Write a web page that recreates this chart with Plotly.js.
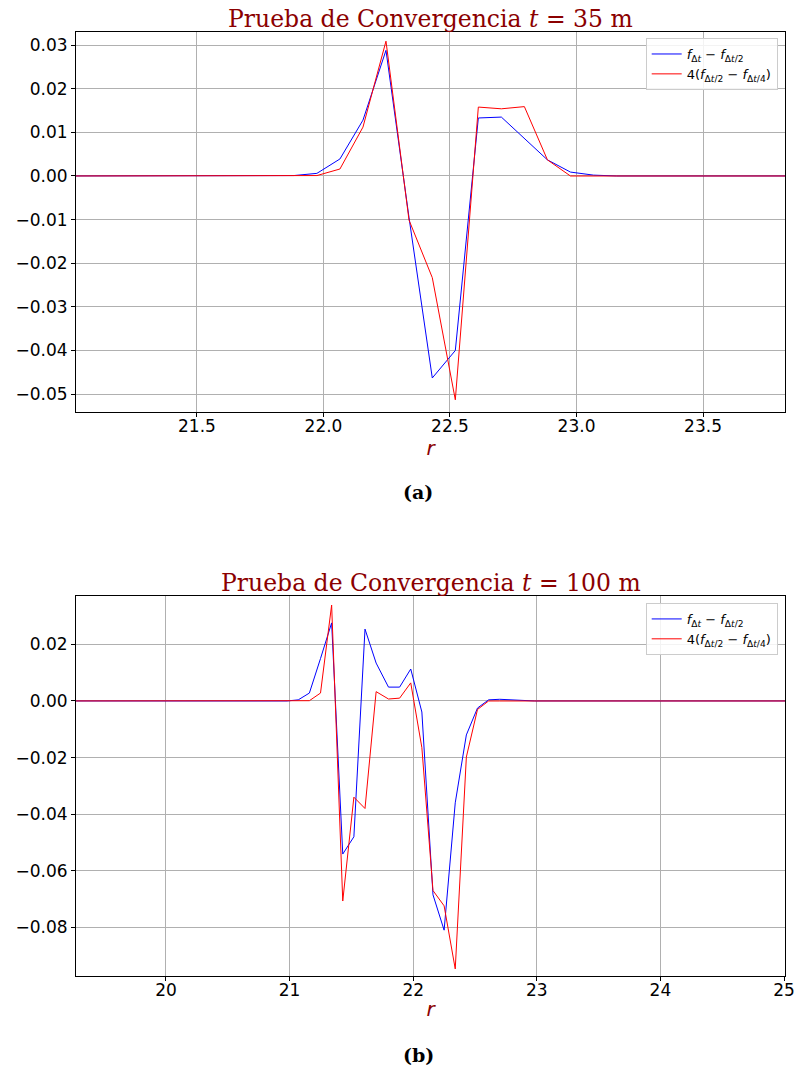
<!DOCTYPE html>
<html>
<head>
<meta charset="utf-8">
<script src="https://cdn.plot.ly/plotly-3.0.1.min.js"></script>
<style>html,body{margin:0;padding:0;background:#fff;}#chart{width:796px;height:1071px;}</style>
</head>
<body>
<div id="chart"></div>
<script>
// ---- Data ----
const rTop = [20.97, 21.79, 21.883, 21.974, 22.065, 22.156, 22.247, 22.338, 22.430, 22.521, 22.612, 22.703, 22.794, 22.885, 22.976, 23.067, 23.158, 23.249, 23.90];
const blueTop = [0, 0, 0.0001, 0.0006, 0.0039, 0.0128, 0.0288, -0.0095, -0.0463, -0.0400, 0.0133, 0.0135, 0.0087, 0.0037, 0.0009, 0.0002, 0, 0, 0];
const redTop = [0, 0, 0, 0.0001, 0.0016, 0.0112, 0.0309, -0.0101, -0.0233, -0.0513, 0.0158, 0.0154, 0.0159, 0.0037, 0.0000, 0, 0, 0, 0];

const rBot = [19.0, 20.98, 21.07, 21.16, 21.25, 21.34, 21.43, 21.52, 21.61, 21.70, 21.80, 21.89, 21.98, 22.07, 22.16, 22.25, 22.34, 22.43, 22.52, 22.61, 22.70, 22.80, 22.89, 22.98, 25.2];
const blueBot = [0, 0, 0.0004, 0.0028, 0.015, 0.0276, -0.0541, -0.048, 0.0254, 0.0134, 0.0049, 0.0049, 0.0113, -0.0039, -0.0685, -0.081, -0.036, -0.012, -0.0025, 0.0004, 0.0006, 0.0003, 0.0001, 0, 0];
const redBot = [0, 0, 0, 0.0001, 0.0028, 0.0339, -0.0707, -0.034, -0.038, 0.0033, 0.0007, 0.001, 0.0064, -0.0165, -0.067, -0.0724, -0.0947, -0.0198, -0.003, 0, 0, 0, 0, 0, 0];

const seriesNames = ['<i>f</i><sub>Δ<i>t</i></sub> − <i>f</i><sub>Δ<i>t</i>/2</sub>',
                     '4(<i>f</i><sub>Δ<i>t</i>/2</sub> − <i>f</i><sub>Δ<i>t</i>/4</sub>)'];
const titles = ['Prueba de Convergencia <i>t</i> = 35 m', 'Prueba de Convergencia <i>t</i> = 100 m'];
const captions = ['(a)', '(b)'];

const DARKRED = '#8b0000';
const traces = [
  {x: rTop, y: blueTop, name: seriesNames[0], mode: 'lines', line: {color: '#0000ff', width: 1}, xaxis: 'x', yaxis: 'y', legend: 'legend'},
  {x: rTop, y: redTop, name: seriesNames[1], mode: 'lines', line: {color: '#ff0000', width: 1}, xaxis: 'x', yaxis: 'y', legend: 'legend'},
  {x: rBot, y: blueBot, name: seriesNames[0], mode: 'lines', line: {color: '#0000ff', width: 1}, xaxis: 'x2', yaxis: 'y2', legend: 'legend2'},
  {x: rBot, y: redBot, name: seriesNames[1], mode: 'lines', line: {color: '#ff0000', width: 1}, xaxis: 'x2', yaxis: 'y2', legend: 'legend2'}
];

const tickFont = {family: 'DejaVu Sans', size: 17, color: '#000'};
const axCommon = {
  showline: true, mirror: true, linecolor: '#000', linewidth: 1,
  showgrid: true, gridcolor: '#b0b0b0', gridwidth: 1,
  zeroline: false, ticks: 'outside', ticklen: 4, tickcolor: '#000',
  tickfont: tickFont, automargin: false
};
const xCommon = Object.assign({}, axCommon, {ticklabelstandoff: -5});
const xTitle = {text: '<i>r</i>', font: {family: 'DejaVu Sans', size: 20, color: DARKRED}, standoff: 2};
const legendCommon = {
  xanchor: 'right', yanchor: 'top', bgcolor: 'rgba(255,255,255,0.85)',
  bordercolor: '#cccccc', borderwidth: 1, font: {family: 'DejaVu Sans', size: 13, color: '#000'},
  tracegroupgap: 0, itemwidth: 30
};

const layout = {
  width: 796, height: 1071,
  margin: {l: 0, r: 0, t: 0, b: 0},
  paper_bgcolor: '#fff', plot_bgcolor: '#fff',
  showlegend: true,
  xaxis: Object.assign({}, xCommon, {domain: [0.0955, 0.9862], anchor: 'y', range: [21.022, 23.824], tick0: 21.5, dtick: 0.5, tickformat: '.1f', title: xTitle}),
  yaxis: Object.assign({}, axCommon, {domain: [0.6153, 0.9701], anchor: 'x', range: [-0.0541, 0.0330], tick0: 0, dtick: 0.01, tickformat: '.2f'}),
  xaxis2: Object.assign({}, xCommon, {domain: [0.0955, 0.9862], anchor: 'y2', range: [19.272, 25.008], tick0: 20, dtick: 1, tickformat: 'd', title: xTitle}),
  yaxis2: Object.assign({}, axCommon, {domain: [0.0887, 0.4435], anchor: 'x2', range: [-0.0972, 0.0371], tick0: 0, dtick: 0.02, tickformat: '.2f'}),
  legend: Object.assign({}, legendCommon, {x: 0.977, y: 0.9645}),
  legend2: Object.assign({}, legendCommon, {x: 0.977, y: 0.437}),
  annotations: [
    {text: titles[0], xref: 'paper', yref: 'paper', x: 0.541, y: 1 - 19/1071, xanchor: 'center', yanchor: 'middle', showarrow: false, font: {family: 'DejaVu Serif', size: 23.5, color: DARKRED}},
    {text: titles[1], xref: 'paper', yref: 'paper', x: 0.541, y: 1 - 583/1071, xanchor: 'center', yanchor: 'middle', showarrow: false, font: {family: 'DejaVu Serif', size: 23.5, color: DARKRED}},
    {text: '<b>' + captions[0] + '</b>', xref: 'paper', yref: 'paper', x: 418/796, y: 1 - 492/1071, xanchor: 'center', yanchor: 'middle', showarrow: false, font: {family: 'DejaVu Serif', size: 19, color: '#000'}},
    {text: '<b>' + captions[1] + '</b>', xref: 'paper', yref: 'paper', x: 418/796, y: 1 - 1055/1071, xanchor: 'center', yanchor: 'middle', showarrow: false, font: {family: 'DejaVu Serif', size: 19, color: '#000'}}
  ]
};

Plotly.newPlot('chart', traces, layout, {staticPlot: true, displayModeBar: false});
</script>
</body>
</html>
